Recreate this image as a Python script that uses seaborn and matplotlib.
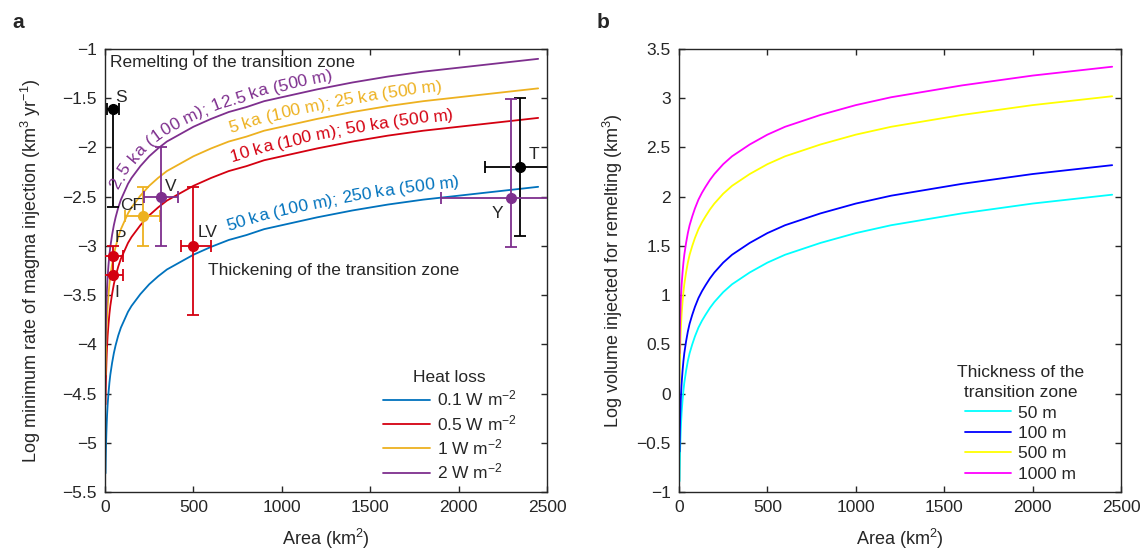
import numpy as np
import pandas as pd
import matplotlib
matplotlib.use("Agg")
import matplotlib.pyplot as plt
import matplotlib.transforms as mtransforms
from matplotlib.font_manager import FontProperties
from matplotlib.ticker import FuncFormatter, MultipleLocator
import seaborn as sns

# ---- data ----
area = [3, 4, 5, 6, 8, 10, 12, 15, 20, 25, 30, 40, 50, 60, 75, 90, 110, 130, 150, 175,
        200, 250, 300, 350, 400, 450, 500, 600, 700, 800, 900, 1000, 1200, 1400, 1600,
        1800, 2000, 2200, 2450]

# panel a: log minimum injection rate for each heat loss
rate_01 = [-5.31, -5.19, -5.09, -5.01, -4.89, -4.79, -4.71, -4.61, -4.49, -4.39, -4.31,
           -4.19, -4.09, -4.01, -3.91, -3.83, -3.75, -3.67, -3.61, -3.55, -3.49, -3.39,
           -3.31, -3.24, -3.19, -3.14, -3.09, -3.01, -2.94, -2.89, -2.83, -2.79, -2.71,
           -2.64, -2.58, -2.53, -2.49, -2.45, -2.40]
rate_05 = [-4.61, -4.49, -4.39, -4.31, -4.19, -4.09, -4.01, -3.91, -3.79, -3.69, -3.61,
           -3.49, -3.39, -3.31, -3.21, -3.13, -3.05, -2.97, -2.91, -2.85, -2.79, -2.69,
           -2.61, -2.54, -2.49, -2.44, -2.39, -2.31, -2.24, -2.19, -2.13, -2.09, -2.01,
           -1.94, -1.88, -1.83, -1.79, -1.75, -1.70]
rate_1 = [-4.31, -4.19, -4.09, -4.01, -3.89, -3.79, -3.71, -3.61, -3.49, -3.39, -3.31,
          -3.19, -3.09, -3.01, -2.91, -2.83, -2.75, -2.67, -2.61, -2.55, -2.49, -2.39,
          -2.31, -2.24, -2.19, -2.14, -2.09, -2.01, -1.94, -1.89, -1.83, -1.79, -1.71,
          -1.64, -1.58, -1.53, -1.49, -1.45, -1.40]
rate_2 = [-4.01, -3.89, -3.79, -3.71, -3.59, -3.49, -3.41, -3.31, -3.19, -3.09, -3.01,
          -2.89, -2.79, -2.71, -2.61, -2.53, -2.45, -2.37, -2.31, -2.25, -2.19, -2.09,
          -2.01, -1.94, -1.89, -1.84, -1.79, -1.71, -1.64, -1.59, -1.53, -1.49, -1.41,
          -1.34, -1.28, -1.23, -1.19, -1.15, -1.10]
heat_labels = ["0.1 W m$^{-2}$", "0.5 W m$^{-2}$", "1 W m$^{-2}$", "2 W m$^{-2}$"]
curve_labels = ["50 ka (100 m); 250 ka (500 m)", "10 ka (100 m); 50 ka (500 m)",
                "5 ka (100 m); 25 ka (500 m)", "2.5 ka (100 m); 12.5 ka (500 m)"]

# panel a: volcanic systems
sites = ["S", "CF", "P", "I", "V", "LV", "T", "Y"]
site_area = [47, 213, 45, 45, 317, 500, 2349, 2298]
site_rate = [-1.61, -2.70, -3.10, -3.30, -2.50, -3.00, -2.20, -2.51]
area_err_lo = [35, 100, 55, 55, 95, 70, 200, 400]
area_err_hi = [35, 100, 55, 55, 95, 100, 200, 400]
rate_err_lo = [1.0, 0.3, 0.2, 0.0, 0.5, 0.7, 0.7, 0.5]
rate_err_hi = [0.0, 0.3, 0.1, 0.0, 0.5, 0.6, 0.7, 1.0]
site_group = ["k", "1", "0.5", "0.5", "2", "0.5", "k", "2"]

# panel b: log volume injected for remelting
vol_50 = [-0.89, -0.77, -0.67, -0.59, -0.47, -0.37, -0.29, -0.19, -0.07, 0.03, 0.11, 0.23,
          0.33, 0.41, 0.50, 0.58, 0.67, 0.74, 0.80, 0.87, 0.93, 1.03, 1.11, 1.17, 1.23,
          1.28, 1.33, 1.41, 1.47, 1.53, 1.58, 1.63, 1.71, 1.77, 1.83, 1.88, 1.93, 1.97, 2.02]
vol_100 = [-0.59, -0.47, -0.37, -0.29, -0.17, -0.07, 0.01, 0.11, 0.23, 0.33, 0.41, 0.53,
           0.63, 0.71, 0.80, 0.88, 0.97, 1.04, 1.10, 1.17, 1.23, 1.33, 1.41, 1.47, 1.53,
           1.58, 1.63, 1.71, 1.77, 1.83, 1.88, 1.93, 2.01, 2.07, 2.13, 2.18, 2.23, 2.27, 2.32]
vol_500 = [0.11, 0.23, 0.33, 0.41, 0.53, 0.63, 0.71, 0.81, 0.93, 1.03, 1.11, 1.23, 1.33,
           1.41, 1.50, 1.58, 1.67, 1.74, 1.80, 1.87, 1.93, 2.03, 2.11, 2.17, 2.23, 2.28,
           2.33, 2.41, 2.47, 2.53, 2.58, 2.63, 2.71, 2.77, 2.83, 2.88, 2.93, 2.97, 3.02]
vol_1000 = [0.41, 0.53, 0.63, 0.71, 0.83, 0.93, 1.01, 1.11, 1.23, 1.33, 1.41, 1.53, 1.63,
            1.71, 1.80, 1.88, 1.97, 2.04, 2.10, 2.17, 2.23, 2.33, 2.41, 2.47, 2.53, 2.58,
            2.63, 2.71, 2.77, 2.83, 2.88, 2.93, 3.01, 3.07, 3.13, 3.18, 3.23, 3.27, 3.32]
thick_labels = ["50 m", "100 m", "500 m", "1000 m"]

# ---- style ----
sns.set_style("ticks")
plt.rcParams["font.family"] = ["Liberation Sans", "DejaVu Sans"]
plt.rcParams["mathtext.fontset"] = "custom"
plt.rcParams["mathtext.rm"] = "Liberation Sans"
plt.rcParams["mathtext.it"] = "Liberation Sans:italic"
plt.rcParams["mathtext.bf"] = "Liberation Sans:bold"
plt.rcParams["axes.linewidth"] = 1.0

heat_colors = {"0.1": "#0072BD", "0.5": "#D40010", "1": "#EDB120", "2": "#7E2F8E", "k": "black"}
thick_colors = ["#00FFFF", "#0000FF", "#FFFF00", "#FF00FF"]

W, H = 1148, 557
fig = plt.figure(figsize=(W / 100, H / 100), dpi=100)
ax1 = fig.add_axes([105 / W, 1 - 492 / H, 442 / W, 443 / H])
ax2 = fig.add_axes([679 / W, 1 - 492 / H, 442 / W, 443 / H])


def fmt(v, pos):
    return ("%g" % v).replace("-", "\u2212")


for ax in (ax1, ax2):
    ax.tick_params(direction="in", top=True, right=True, length=4, width=1,
                   labelsize=12.5, pad=6)
    ax.xaxis.set_major_locator(MultipleLocator(500))
    ax.yaxis.set_major_locator(MultipleLocator(0.5))
    ax.yaxis.set_major_formatter(FuncFormatter(fmt))
    ax.xaxis.set_major_formatter(FuncFormatter(fmt))
    ax.set_xlim(0, 2500)
    for sp in ax.spines.values():
        sp.set_visible(True)

# ---- panel a ----
ax1.set_ylim(-5.5, -1)
rates = [rate_01, rate_05, rate_1, rate_2]
keys = ["0.1", "0.5", "1", "2"]
for vals, key, lab in zip(rates, keys, heat_labels):
    sns.lineplot(x=area, y=vals, color=heat_colors[key], lw=1.3, label=lab, ax=ax1,
                 estimator=None, sort=False)

for i, s in enumerate(sites):
    ax1.errorbar(site_area[i], site_rate[i],
                 xerr=[[area_err_lo[i]], [area_err_hi[i]]],
                 yerr=[[rate_err_lo[i]], [rate_err_hi[i]]],
                 fmt="o", color=heat_colors[site_group[i]], ms=7, elinewidth=1.3,
                 capsize=4, capthick=1.3, zorder=5)

label_pos = {"S": (89, -1.49), "CF": (151, -2.59), "P": (85, -2.91), "I": (66, -3.47),
             "V": (372, -2.40), "LV": (578, -2.866), "T": (2424, -2.075), "Y": (2217, -2.67)}
for s in sites:
    ax1.text(*label_pos[s], s, fontsize=12.5, ha="center", va="center", zorder=6)

ax1.text(28, -1.14, "Remelting of the transition zone", fontsize=12.5, va="center")
ax1.text(583, -3.25, "Thickening of the transition zone", fontsize=12.5, va="center")

leg1 = ax1.legend(title="Heat loss", loc="lower right", bbox_to_anchor=(0.955, 0.0),
                  frameon=False, fontsize=12.5, title_fontsize=12.5, handlelength=2.7,
                  handletextpad=0.4, labelspacing=0.25, borderaxespad=0.2)

ax1.set_xlabel("Area (km$^2$)", fontsize=13, labelpad=8)
ax1.set_ylabel("Log minimum rate of magma injection (km$^3$ yr$^{-1}$)", fontsize=13,
               labelpad=14)

# ---- panel b ----
ax2.set_ylim(-1, 3.5)
for vals, col, lab in zip([vol_50, vol_100, vol_500, vol_1000], thick_colors, thick_labels):
    sns.lineplot(x=area, y=vals, color=col, lw=1.3, label=lab, ax=ax2,
                 estimator=None, sort=False)
leg2 = ax2.legend(title="Thickness of the\ntransition zone", loc="lower right",
                  bbox_to_anchor=(0.94, 0.0), frameon=False, fontsize=12.5,
                  title_fontsize=12.5, handlelength=2.7, handletextpad=0.4,
                  labelspacing=0.3, borderaxespad=0.2)
leg2.get_title().set_multialignment("center")
leg2.get_title().set_linespacing(1.45)
ax2.set_xlabel("Area (km$^2$)", fontsize=13, labelpad=8)
ax2.set_ylabel("Log volume injected for remelting (km$^3$)", fontsize=13, labelpad=8)

fig.text(12 / W, 1 - 22 / H, "a", fontsize=15, fontweight="bold", va="center")
fig.text(597 / W, 1 - 22 / H, "b", fontsize=15, fontweight="bold", va="center")

# ---- labels following the curves ----
renderer = fig.canvas.get_renderer()
prop = FontProperties(family=["Liberation Sans", "DejaVu Sans"], size=12.5)


def text_width(t):
    w, h, d = renderer.get_text_width_height_descent(t + "x", prop, ismath=False)
    w0, _, _ = renderer.get_text_width_height_descent("x", prop, ismath=False)
    return w - w0


def text_on_curve(ax, xs, ys, text, start_x, offset, color):
    pts = ax.transData.transform(np.column_stack([xs, ys]))
    s = np.concatenate([[0], np.cumsum(np.hypot(np.diff(pts[:, 0]), np.diff(pts[:, 1])))])
    sx = ax.transData.transform((start_x, ys[0]))[0]
    s0 = np.interp(sx, pts[:, 0], s)
    for i, ch in enumerate(text):
        if ch == " ":
            continue
        c = s0 + (text_width(text[:i]) + text_width(text[:i + 1])) / 2
        px = np.interp(c, s, pts[:, 0])
        py = np.interp(c, s, pts[:, 1])
        x1, y1 = np.interp(c - 8, s, pts[:, 0]), np.interp(c - 8, s, pts[:, 1])
        x2, y2 = np.interp(c + 8, s, pts[:, 0]), np.interp(c + 8, s, pts[:, 1])
        th = np.arctan2(y2 - y1, x2 - x1)
        fig.text(px - offset * np.sin(th), py + offset * np.cos(th), ch, color=color,
                 fontproperties=prop, rotation=np.degrees(th), rotation_mode="anchor",
                 ha="center", va="baseline", transform=mtransforms.IdentityTransform())


text_on_curve(ax1, area, rate_01, curve_labels[0], 710, 9, heat_colors["0.1"])
text_on_curve(ax1, area, rate_05, curve_labels[1], 730, 8, heat_colors["0.5"])
text_on_curve(ax1, area, rate_1, curve_labels[2], 720, 8, heat_colors["1"])
text_on_curve(ax1, area, rate_2, curve_labels[3], 108, 6, heat_colors["2"])

fig.savefig("out.png", dpi=100, facecolor="white")
